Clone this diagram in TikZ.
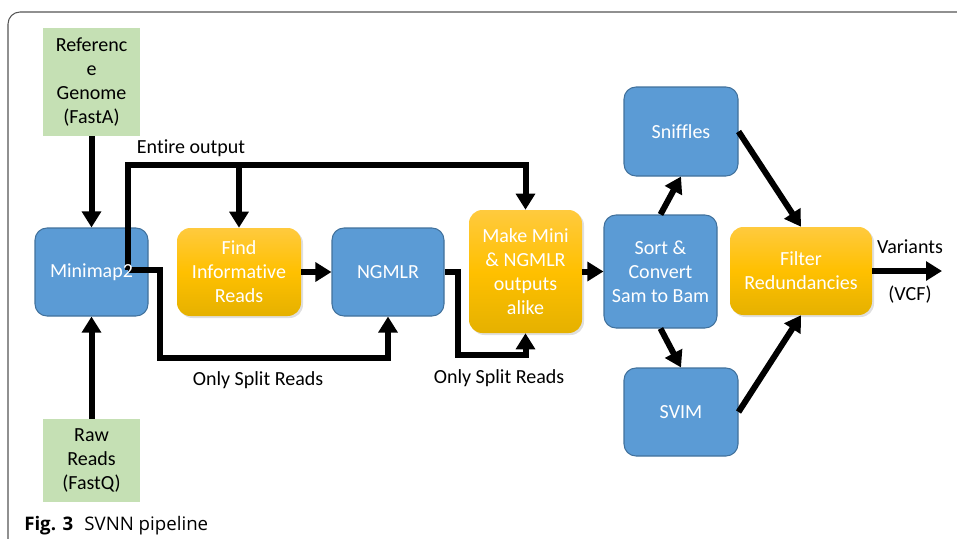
\documentclass[tikz,border=0pt]{standalone}
\usepackage{fontspec}
\setmainfont{Carlito}[Ligatures=NoCommon]
\newfontfamily\capfont{Open Sans}
\usetikzlibrary{arrows.meta,shadows}
\definecolor{blueFill}{HTML}{5B9BD5}
\definecolor{blueLine}{HTML}{41719C}
\definecolor{greenFill}{HTML}{C5E0B4}
\definecolor{orgTop}{HTML}{FFCA3E}
\definecolor{orgMid}{HTML}{FFC000}
\definecolor{orgBot}{HTML}{E5B100}
\definecolor{frameGray}{HTML}{555555}
\tikzset{tool/.style={draw=blueLine,fill=blueFill,rounded corners=9pt,align=center,text=white,line width=0.8pt,minimum width=84.75pt,minimum height=66pt},proc/.style={rounded corners=10pt,align=center,text=white,top color=orgTop,bottom color=orgBot,middle color=orgMid,drop shadow={opacity=0.25,shadow xshift=1.5pt,shadow yshift=-1.5pt},minimum height=66pt},input/.style={fill=greenFill,align=center,minimum width=72.75pt},arrow/.style={-{Triangle[length=12pt,width=14pt]},line width=4.5pt},lbl/.style={align=center}}

\begin{document}
\begin{tikzpicture}[x=0.75pt,y=-0.75pt,font=\fontsize{15pt}{18pt}\selectfont]
\useasboundingbox (0,0) rectangle (957,539);
\draw[frameGray,line width=0.8pt,rounded corners=9pt] (962,12) -- (8,12) -- (8,544);
\node[input,minimum height=81pt] (ref) at (91.5,82) {Referenc\\e\\Genome\\(FastA)};
\node[input,minimum height=62.25pt] (raw) at (91.5,460.5) {Raw\\Reads\\(FastQ)};
\node[tool] (mini) at (91.5,272) {};
\node[proc,minimum width=93pt] (find) at (239,272) {Find\\Informative\\Reads};
\node[tool,minimum width=84pt] (ngmlr) at (388,272) {NGMLR};
\node[proc,minimum width=84.75pt,minimum height=92.25pt] (make) at (525.5,271.5) {Make Mini\\\& NGMLR\\outputs\\alike};
\node[tool,minimum height=84.75pt] (sort) at (660.5,271.5) {Sort \&\\Convert\\Sam to Bam};
\node[tool,minimum width=85.5pt,minimum height=66.75pt] (sniffles) at (681,131.5) {Sniffles};
\node[tool,minimum width=85.5pt] (svim) at (681,412) {SVIM};
\node[proc,minimum width=106.5pt] (filter) at (801,271) {Filter\\Redundancies};
\node[lbl] (entire) at (191,148) {Entire output};
\node[lbl] (split1) at (258,380) {Only Split Reads};
\node[lbl] (split2) at (499,378) {Only Split Reads};
\node[lbl] (variants) at (910,247) {Variants};
\node[lbl] (vcf) at (910,295) {(VCF)};
\node[anchor=base west,inner sep=0pt] (caption) at (24,530) {\capfont\fontsize{14pt}{16pt}\selectfont\textbf{Fig. 3}\hspace{0.6em}SVNN pipeline};
\coordinate (split) at (128,270);
\coordinate (eo) at (128,165);
\coordinate (s1) at (160,358);
\coordinate (s2) at (458,355);
\coordinate (out) at (942,271);
\draw[arrow] (ref) -- (mini); \draw[arrow] (raw) -- (mini);
\draw[arrow] (split) -- (eo) -| (make.north); \draw[arrow] (find.north |- eo) -- (find);
\draw[arrow] (split) -| (s1) -| (ngmlr.south);
\draw[arrow] (find) -- (ngmlr); \draw[arrow] (ngmlr.east) -| (s2) -| (make.south);
\draw[arrow] (make) -- (sort);
\draw[arrow] (sort.north) -- (sniffles.south); \draw[arrow] (sort.south) -- (svim.north);
\draw[arrow] (sniffles.east) -- (filter.north); \draw[arrow] (svim.east) -- (filter.south);
\draw[arrow] (filter) -- (out);
\node[text=white] (minilabel) at (mini) {Minimap2};
\end{tikzpicture}
\end{document}
